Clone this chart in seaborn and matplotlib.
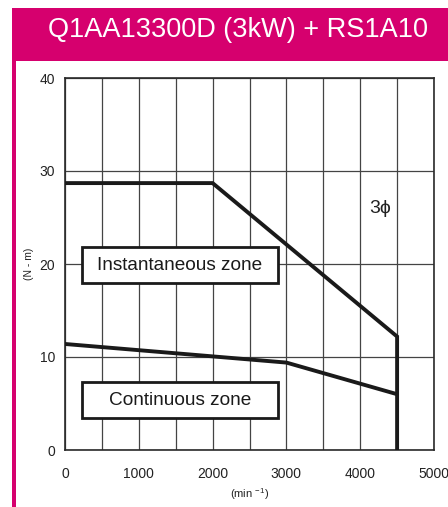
import matplotlib
matplotlib.use("Agg")
import matplotlib.pyplot as plt
from matplotlib.patches import Rectangle
import seaborn as sns
import pandas as pd

# ---- data ----
inst_speed = [0, 2000, 4500, 4500]
inst_torque = [28.7, 28.7, 12.2, 0.0]
cont_speed = [0, 3000, 4500]
cont_torque = [11.4, 9.4, 6.0]
x_ticks = [0, 1000, 2000, 3000, 4000, 5000]
y_ticks = [0, 10, 20, 30, 40]
title = "Q1AA13300D (3kW) + RS1A10"
zone_labels = ["Instantaneous zone", "Continuous zone"]
phase_label = "3\u03d5"

sns.set_theme(style="white")
plt.rcParams["font.family"] = ["Liberation Sans", "DejaVu Sans"]
NARROW = ["Liberation Sans", "DejaVu Sans"]

W, H = 448, 507
fig = plt.figure(figsize=(W / 100, H / 100), dpi=100)
fig.patch.set_facecolor("white")

def fx(px):
    return px / W

def fy(py):
    return 1 - py / H

PINK = "#D6006E"
# header band and left border
fig.patches.append(Rectangle((fx(12), fy(61)), fx(448 - 12), (61 - 8) / H,
                             transform=fig.transFigure, facecolor=PINK, edgecolor="none", zorder=0))
fig.patches.append(Rectangle((fx(12), 0), fx(3.5), fy(8),
                             transform=fig.transFigure, facecolor=PINK, edgecolor="none", zorder=0))
fig.text(fx(238), fy(30), title, color="white", fontsize=19.5, family=NARROW,
         ha="center", va="center")

ax = fig.add_axes([fx(65), fy(450), fx(434 - 65), (450 - 78) / H])

df = pd.concat([
    pd.DataFrame({"speed": inst_speed, "torque": inst_torque, "zone": "inst"}),
    pd.DataFrame({"speed": cont_speed, "torque": cont_torque, "zone": "cont"}),
], ignore_index=True)

sns.lineplot(data=df, x="speed", y="torque", units="zone", estimator=None, sort=False,
             color="#1a1a1a", linewidth=2.8, ax=ax, zorder=5, solid_joinstyle="miter")

ax.set_xlim(0, 5000)
ax.set_ylim(0, 40)
ax.set_xticks(x_ticks)
ax.set_xticks(range(500, 5000, 1000), minor=True)
ax.set_yticks(y_ticks)
ax.set_xticklabels([str(v) for v in x_ticks], fontsize=10, color="#222222")
ax.set_yticklabels([str(v) for v in y_ticks], fontsize=10, color="#222222")
ax.tick_params(axis="x", which="both", length=0, pad=12)
ax.tick_params(axis="y", which="both", length=0, pad=7)
ax.grid(True, axis="x", which="both", color="#444444", linewidth=0.9)
ax.grid(True, axis="y", which="major", color="#444444", linewidth=0.9)
for s in ax.spines.values():
    s.set_visible(True)
    s.set_color("#2a2a2a")
    s.set_linewidth(1.2)

ax.set_xlabel(r"(min $^{\mathregular{-1}}$)", fontsize=8, color="#222222", labelpad=4)
ax.set_ylabel("(N - m)", fontsize=7.5, color="#222222", labelpad=4)

# zone label boxes
box_x0, box_x1 = 230, 2886
for (y0, y1), lab in zip([(17.96, 21.8), (3.44, 7.31)], zone_labels):
    ax.add_patch(Rectangle((box_x0, y0), box_x1 - box_x0, y1 - y0, facecolor="white",
                           edgecolor="#1a1a1a", linewidth=2.0, zorder=6))
    ax.text((box_x0 + box_x1) / 2, (y0 + y1) / 2, lab, fontsize=13.7, family=NARROW,
            ha="center", va="center", color="#1a1a1a", zorder=7)

ax.text(4270, 26.0, phase_label, fontsize=14, ha="center", va="center", color="#222222", zorder=7)

fig.savefig("out.png", dpi=100)
